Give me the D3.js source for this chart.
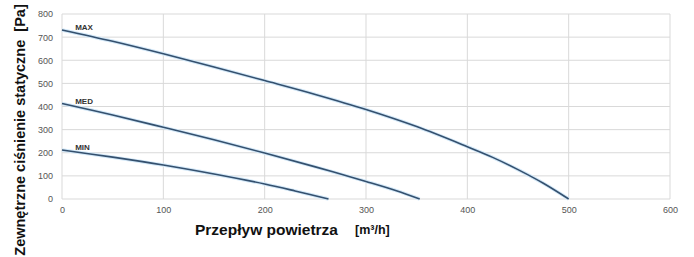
<!DOCTYPE html>
<html>
<head>
<meta charset="utf-8">
<script src="https://cdn.jsdelivr.net/npm/d3@7"></script>
<style>
  body { margin: 0; background: #fff; }
  svg text { font-family: "Liberation Sans", Arial, sans-serif; }
</style>
</head>
<body>
<svg id="chart"></svg>
<script>
const xTicks = [0, 100, 200, 300, 400, 500, 600]
const yTicks = [0, 100, 200, 300, 400, 500, 600, 700, 800]

// airflow [m3/h] and static pressure [Pa] per curve
const maxFlow = [0, 50, 100, 150, 200, 250, 300, 350, 400, 425, 450, 475, 500]
const maxPressure = [731, 682, 628, 571, 512, 452, 387, 313, 226, 180, 127, 68, 0]
const medFlow = [0, 50, 100, 150, 200, 250, 300, 330, 353]
const medPressure = [413, 363, 310, 256, 199, 139, 76, 36, 0]
const minFlow = [0, 50, 100, 150, 200, 230, 263]
const minPressure = [212, 181, 147, 108, 65, 35, 0]

const series = [
    { name: "MAX", xs: maxFlow, ys: maxPressure },
    { name: "MED", xs: medFlow, ys: medPressure },
    { name: "MIN", xs: minFlow, ys: minPressure }
]

const width = 694, height = 257
const margin = { top: 14, right: 24, bottom: 58, left: 62 }

const svg = d3.select("#chart")
    .attr("width", width)
    .attr("height", height)

const x = d3.scaleLinear()
    .domain([0, 600])
    .range([margin.left, width - margin.right])

const y = d3.scaleLinear()
    .domain([0, 800])
    .range([height - margin.bottom, margin.top])

// grid
svg.append("g")
    .selectAll("line")
    .data(yTicks)
    .join("line")
    .attr("x1", x(0)).attr("x2", x(600))
    .attr("y1", d => y(d)).attr("y2", d => y(d))
    .attr("stroke", "#d9d9d9")

svg.append("g")
    .selectAll("line")
    .data(xTicks)
    .join("line")
    .attr("y1", y(0)).attr("y2", y(800))
    .attr("x1", d => x(d)).attr("x2", d => x(d))
    .attr("stroke", "#d9d9d9")

const xAxis = g => g
    .attr("transform", `translate(0,${y(0)})`)
    .call(d3.axisBottom(x).tickValues(xTicks).tickSize(0).tickPadding(8))
    .call(g => g.select(".domain").remove())

const yAxis = g => g
    .attr("transform", `translate(${x(0)},0)`)
    .call(d3.axisLeft(y).tickValues(yTicks).tickSize(0).tickPadding(9))
    .call(g => g.select(".domain").remove())

svg.append("g").call(xAxis)
svg.append("g").call(yAxis)
svg.selectAll(".tick text")
    .attr("font-size", 9)
    .attr("fill", "#555")
    .attr("font-family", "Liberation Sans, Arial, sans-serif")

const line = d3.line()
    .x(d => x(d[0]))
    .y(d => y(d[1]))
    .curve(d3.curveCatmullRom.alpha(0.5))

series.forEach(s => {
    const pts = s.xs.map((v, i) => [v, s.ys[i]])
    svg.append("path")
        .datum(pts)
        .attr("d", line)
        .attr("fill", "none")
        .attr("stroke", "#d3e8f8")
        .attr("stroke-width", 3.5)
    svg.append("path")
        .datum(pts)
        .attr("d", line)
        .attr("fill", "none")
        .attr("stroke", "#34506e")
        .attr("stroke-width", 1.6)
    svg.append("text")
        .attr("x", x(13))
        .attr("y", y(s.ys[0]) + 0.5)
        .attr("font-size", 8)
        .attr("font-weight", "bold")
        .attr("fill", "#333")
        .text(s.name)
})

svg.append("text")
    .attr("x", 195)
    .attr("y", 235)
    .attr("font-size", 15.5)
    .attr("font-weight", "bold")
    .attr("fill", "#111")
    .text("Przepływ powietrza")

svg.append("text")
    .attr("x", 355)
    .attr("y", 234)
    .attr("font-size", 12.5)
    .attr("font-weight", "bold")
    .attr("fill", "#111")
    .text("[m³/h]")

svg.append("text")
    .attr("transform", "translate(25,130) rotate(-90)")
    .attr("text-anchor", "middle")
    .attr("font-size", 14.5)
    .attr("font-weight", "bold")
    .attr("fill", "#111")
    .attr("xml:space", "preserve")
    .text("Zewnętrzne ciśnienie statyczne  [Pa]")
</script>
</body>
</html>
